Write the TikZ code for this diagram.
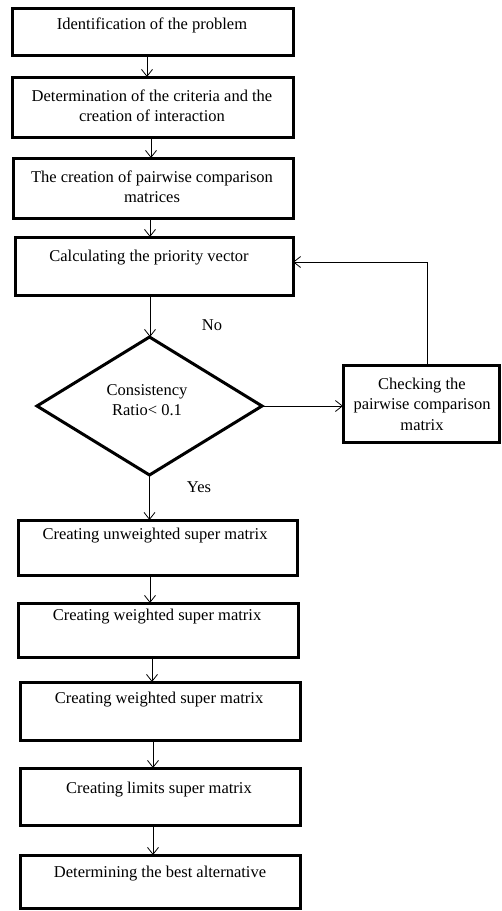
\documentclass[tikz,border=0pt]{standalone}
\usepackage{fontspec}
\setmainfont{Liberation Serif}
\usetikzlibrary{shapes.geometric,arrows.meta}
\begin{document}
\begin{tikzpicture}[x=1pt,y=-1pt,
  box/.style={draw,line width=3pt,inner sep=0pt,outer sep=0pt},
  txt/.style={font=\fontsize{16.5}{20.5}\selectfont,align=center,inner sep=0pt},
  arr/.style={line width=0.8pt,-{Straight Barb[length=7pt,width=11pt,line width=0.8pt]}}]
\useasboundingbox (0,0) rectangle (502,911);
% boxes
\node[box,minimum width=281,minimum height=47] (b1) at (152.5,31.5) {};
\node[box,minimum width=281,minimum height=60] (b2) at (152.5,107) {};
\node[box,minimum width=280,minimum height=60] (b3) at (153,188) {};
\node[box,minimum width=278,minimum height=58] (b4) at (154,266) {};
\node[box,diamond,minimum width=225,minimum height=138] (d) at (149.5,406) {};
\node[box,minimum width=156,minimum height=77] (rb) at (421,403.5) {};
\node[box,minimum width=279,minimum height=55] (b5) at (157.5,547.5) {};
\node[box,minimum width=280,minimum height=54] (b6) at (158,630) {};
\node[box,minimum width=280,minimum height=58] (b7) at (160,711) {};
\node[box,minimum width=280,minimum height=57] (b8) at (160,796.5) {};
\node[box,minimum width=280,minimum height=53] (b9) at (160,881.5) {};
% texts
\node[txt] (t1) at (152,25) {Identification of the problem};
\node[txt] (t2) at (152,106) {Determination of the criteria and the\\creation of interaction};
\node[txt] (t3) at (152,187) {The creation of pairwise comparison\\matrices};
\node[txt] (t4) at (149,258) {Calculating the priority vector};
\node[txt] (td) at (147,400) {Consistency\\Ratio< 0.1};
\node[txt] (trb) at (422,404) {Checking the\\pairwise comparison\\matrix};
\node[txt] (t5) at (155,536) {Creating unweighted super matrix};
\node[txt] (t6) at (157,617) {Creating weighted super matrix};
\node[txt] (t7) at (159,700) {Creating weighted super matrix};
\node[txt] (t8) at (159,790) {Creating limits super matrix};
\node[txt] (t9) at (160,874) {Determining the best alternative};
\node[txt] (no) at (212,325) {No};
\node[txt] (yes) at (199,487) {Yes};
% connectors
\draw[arr] (b1.south -| 147,0) -- (b2.north -| 147,0);
\draw[arr] (b2.south -| 151,0) -- (b3.north -| 151,0);
\draw[arr] (b3.south -| 150,0) -- (b4.north -| 150,0);
\draw[arr] (b4.south -| 150,0) -- (d.north -| 150,0);
\draw[arr] (d.south) -- (b5.north -| d.south);
\draw[arr] (b5.south -| 150,0) -- (b6.north -| 150,0);
\draw[arr] (b6.south -| 152,0) -- (b7.north -| 152,0);
\draw[arr] (b7.south -| 153,0) -- (b8.north -| 153,0);
\draw[arr] (b8.south -| 153,0) -- (b9.north -| 153,0);
\draw[arr] (d.east) -- (rb.west |- d.east);
\draw[arr] (rb.north -| 427,0) -- (427,262) -- (b4.east |- 0,262);
\end{tikzpicture}
\end{document}
